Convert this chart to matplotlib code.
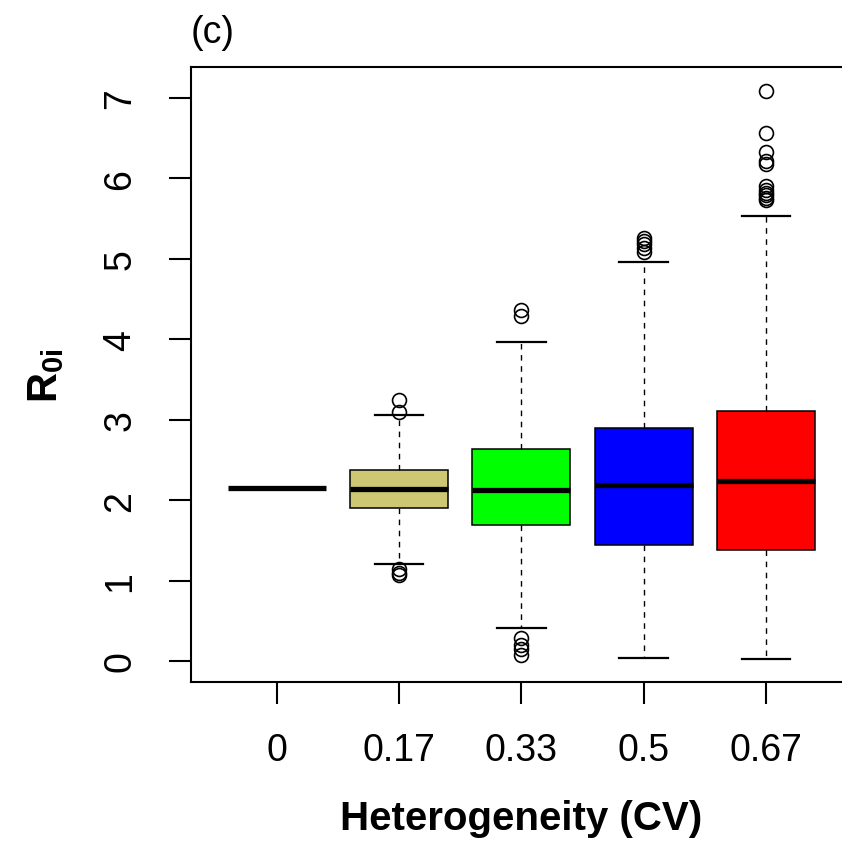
import matplotlib
matplotlib.use("Agg")
import matplotlib.pyplot as plt

plt.rcParams['font.family'] = ['Liberation Sans', 'DejaVu Sans']
plt.rcParams['mathtext.fontset'] = 'custom'
plt.rcParams['mathtext.rm'] = 'Liberation Sans'
plt.rcParams['mathtext.bf'] = 'Liberation Sans:bold'

categories = ['0', '0.17', '0.33', '0.5', '0.67']
colors = ['#CDC673', '#CDC673', '#00FF00', '#0000FF', '#FF0000']
medians = [2.15, 2.14, 2.13, 2.19, 2.24]
q1 = [2.15, 1.905, 1.69, 1.44, 1.38]
q3 = [2.15, 2.38, 2.63, 2.90, 3.11]
whislo = [2.15, 1.21, 0.41, 0.04, 0.02]
whishi = [2.15, 3.055, 3.97, 4.96, 5.53]
fliers = [
    [],
    [3.24, 3.10, 1.15, 1.10, 1.07],
    [4.36, 4.29, 0.28, 0.20, 0.15, 0.08],
    [5.26, 5.22, 5.18, 5.13, 5.09],
    [7.09, 6.56, 6.33, 6.22, 6.18, 5.90, 5.86, 5.82, 5.79, 5.76, 5.73],
]

stats = []
for i, c in enumerate(categories):
    stats.append(dict(med=medians[i], q1=q1[i], q3=q3[i], whislo=whislo[i],
                      whishi=whishi[i], fliers=fliers[i], label=c))

fig = plt.figure(figsize=(8.42, 8.45), dpi=100)
ax = fig.add_axes([191/842, 1 - 683/845, (851.6 - 191)/842, (683 - 68)/845])

positions = list(range(1, len(categories) + 1))
bp = ax.bxp(stats, positions=positions, widths=0.8, patch_artist=True,
            showfliers=True,
            boxprops=dict(edgecolor='black', linewidth=1.1),
            medianprops=dict(color='black', linewidth=3.8, solid_capstyle='butt'),
            whiskerprops=dict(color='black', linewidth=1.0, linestyle=(0, (4, 4))),
            capprops=dict(color='black', linewidth=1.6),
            capwidths=0.4,
            flierprops=dict(marker='o', markerfacecolor='none', markeredgecolor='black',
                            markersize=10, markeredgewidth=1.2))
for i, (patch, col) in enumerate(zip(bp['boxes'], colors)):
    patch.set_facecolor(col)
    if i == 0:
        patch.set_edgecolor('none')

ax.set_xlim(0.3, 5.7)
ax.set_ylim(-0.261, 7.385)
ax.set_xticks(positions)
ax.set_xticklabels(categories)
ax.set_yticks(range(0, 8))
ax.set_yticklabels([str(v) for v in range(0, 8)], rotation=90, va='center')

ax.tick_params(axis='both', direction='out', length=16, width=1.5, labelsize=27)
ax.tick_params(axis='x', pad=20)
ax.tick_params(axis='y', pad=22)
for s in ax.spines.values():
    s.set_linewidth(1.5)

ax.set_xlabel('Heterogeneity (CV)', fontsize=29, fontweight='bold', labelpad=22)
ax.set_ylabel(r'$\mathbf{R}_{\mathbf{0i}}$', fontsize=30, labelpad=26)
ax.set_title('(c)', loc='left', fontsize=27, pad=18)

fig.savefig('out.png', dpi=100)
